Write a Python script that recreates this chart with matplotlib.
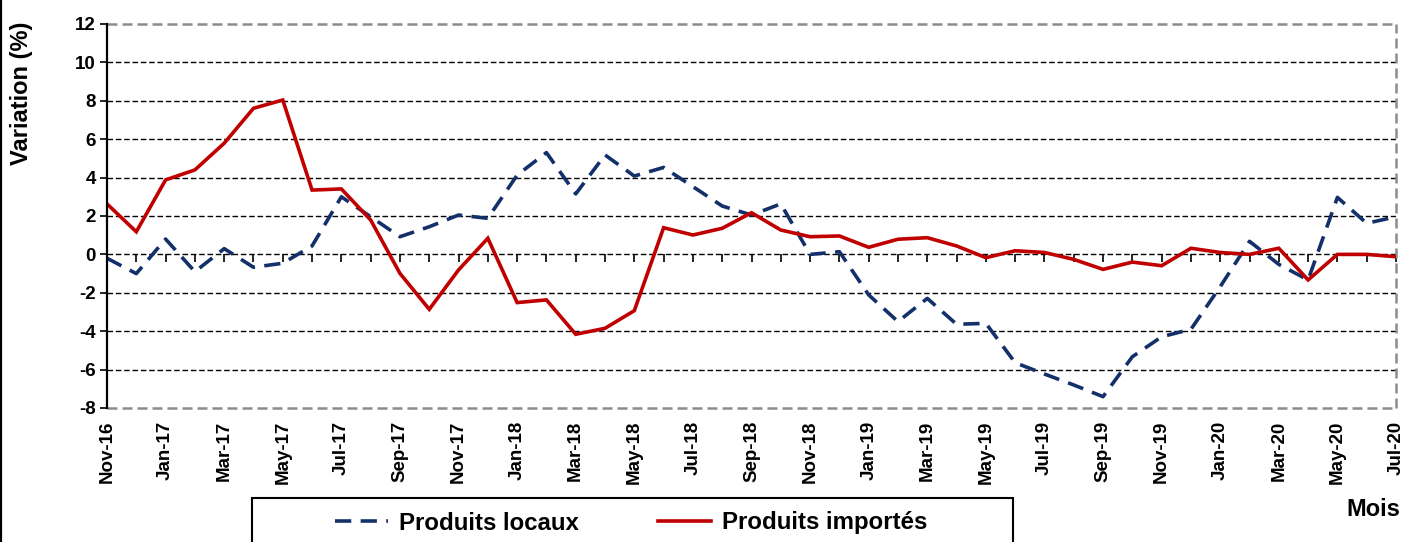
"""Variation mensuelle des prix : produits locaux vs produits importés."""

import numpy as np
import pandas as pd
import matplotlib
matplotlib.use("Agg")
import matplotlib.pyplot as plt
from matplotlib.lines import Line2D
from matplotlib.patches import Rectangle

plt.rcParams["font.family"] = ["Liberation Sans", "DejaVu Sans"]
plt.rcParams["font.weight"] = "bold"
plt.rcParams["axes.unicode_minus"] = False

MONTHS = pd.date_range("2016-11-01", "2020-07-01", freq="MS").strftime("%b-%y").tolist()

LOCAUX = [
    -0.2, -1.0, 0.8, -0.9, 0.3, -0.67, -0.46, 0.44, 3.0, 1.96,
    0.92, 1.44, 2.05, 1.88, 4.13, 5.3, 3.15, 5.18, 4.08, 4.53,
    3.53, 2.52, 2.05, 2.63, 0.0, 0.14, -2.11, -3.5, -2.29, -3.64,
    -3.59, -5.64, -6.23, -6.8, -7.41, -5.33, -4.29, -3.9, -1.68, 0.68,
    -0.52, -1.33, 2.97, 1.62, 1.96,
]
IMPORTES = [
    2.63, 1.18, 3.88, 4.4, 5.79, 7.61, 8.04, 3.35, 3.41, 1.79,
    -0.99, -2.86, -0.81, 0.84, -2.51, -2.37, -4.16, -3.85, -2.93, 1.39,
    1.01, 1.36, 2.17, 1.27, 0.92, 0.96, 0.37, 0.79, 0.87, 0.44,
    -0.17, 0.19, 0.1, -0.26, -0.78, -0.4, -0.59, 0.32, 0.1, 0.0,
    0.32, -1.33, 0.0, 0.0, -0.12,
]
Y_TICKS = list(range(-8, 13, 2))

BLUE = "#13306a"
RED = "#c00000"


def main():
    W, H = 1403, 542
    fig = plt.figure(figsize=(W / 100, H / 100), dpi=100)
    ax = fig.add_axes([107 / W, 1 - 408 / H, (1396 - 107) / W, (408 - 24) / H])

    x = np.arange(len(MONTHS))

    # horizontal grid (black dashes), border lines grey dashed
    for v in Y_TICKS[1:-1]:
        ax.axhline(v, color="black", lw=1.0, ls=(0, (4, 2)), zorder=1)
    for v in (Y_TICKS[0], Y_TICKS[-1]):
        ax.axhline(v, color="#8c8c8c", lw=1.8, ls=(0, (4, 2)), zorder=1, clip_on=False)
    ax.axvline(len(MONTHS) - 1, color="#8c8c8c", lw=1.8, ls=(0, (4, 2)), zorder=1,
               clip_on=False)

    ax.plot(x, LOCAUX, color=BLUE, lw=2.6, ls=(0, (4.5, 2.6)), zorder=3,
            label="Produits locaux")
    ax.plot(x, IMPORTES, color=RED, lw=2.6, zorder=4, label="Produits importés",
            solid_joinstyle="miter")

    ax.set_xlim(0, len(MONTHS) - 1)
    ax.set_ylim(Y_TICKS[0], Y_TICKS[-1])

    for side in ("top", "right", "bottom"):
        ax.spines[side].set_visible(False)
    ax.spines["left"].set_linewidth(1.6)
    ax.spines["left"].set_zorder(5)

    ax.set_yticks(Y_TICKS)
    ax.tick_params(axis="y", length=5, width=1.2, labelsize=13.5, pad=3)
    ax.set_xticks(x[::2])
    ax.set_xticklabels(MONTHS[::2], rotation=90, fontsize=13.5, fontweight="bold")
    ax.tick_params(axis="x", length=0, pad=9)
    for lab in ax.get_yticklabels():
        lab.set_fontweight("bold")

    # month tick marks on the zero line
    zero = (0 - Y_TICKS[0]) / (Y_TICKS[-1] - Y_TICKS[0])
    sec = ax.secondary_xaxis(zero)
    sec.set_xticks(x[1:])
    sec.tick_params(axis="x", direction="out", length=6, width=1.2, labelbottom=False,
                    labeltop=False, bottom=True, top=False)
    sec.spines["bottom"].set_visible(False)
    sec.spines["top"].set_visible(False)

    ax.set_ylabel("Variation (%)", fontsize=17, fontweight="bold")
    ax.yaxis.set_label_coords(-0.0572, 0.82)

    fig.text(1373 / W, 1 - 510 / H, "Mois", fontsize=17, fontweight="bold",
             ha="center", va="center")

    # legend, boxed at the bottom
    fig.patches.append(Rectangle((252 / W, 1 - 560 / H), (1013 - 252) / W, 62 / H,
                                 transform=fig.transFigure, fill=False,
                                 edgecolor="black", lw=1.5))
    handles, labels = ax.get_legend_handles_labels()
    fig.legend(handles, labels, loc="center left",
               bbox_to_anchor=(323 / W, 1 - 523 / H), ncol=2, frameon=False,
               handlelength=2.2, handletextpad=0.45,
               columnspacing=3.3, borderpad=0.0, prop={"weight": "bold", "size": 17.3})

    fig.add_artist(Line2D([1.2 / W, 1.2 / W], [0, 1], color="black", lw=1.6,
                          transform=fig.transFigure))

    fig.savefig("out.png", dpi=100)
    plt.close(fig)


if __name__ == "__main__":
    main()
